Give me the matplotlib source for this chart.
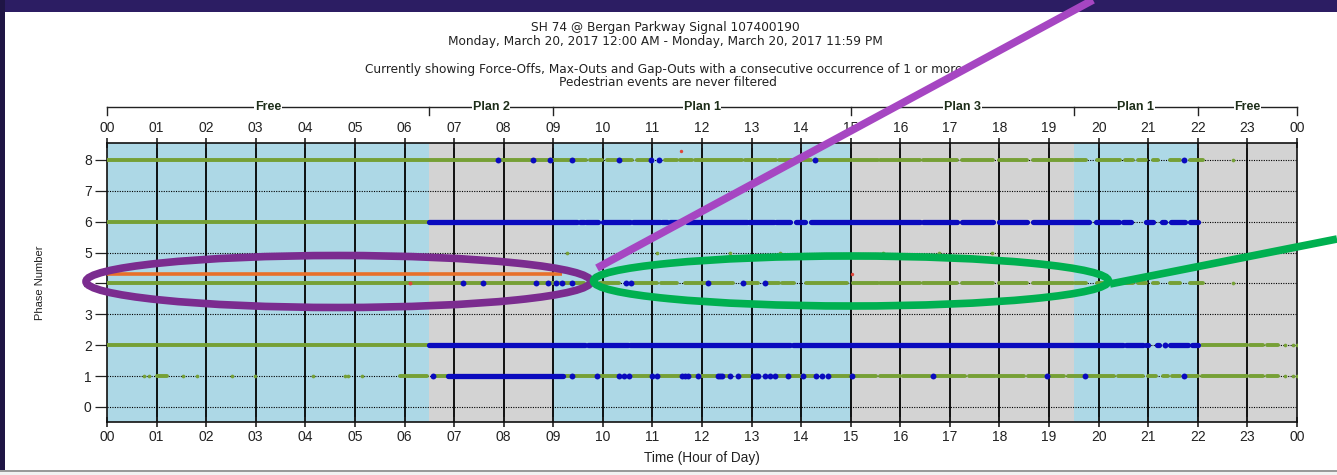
import matplotlib
matplotlib.use("Agg")
import matplotlib.pyplot as plt
from matplotlib.patches import Ellipse, Rectangle
from matplotlib.lines import Line2D
import matplotlib.transforms as mtransforms

plt.rcParams['font.family'] = ['Liberation Sans', 'DejaVu Sans']

# ---------------------------------------------------------------- data
hour_labels = ["00", "01", "02", "03", "04", "05", "06", "07", "08", "09", "10", "11",
               "12", "13", "14", "15", "16", "17", "18", "19", "20", "21", "22", "23", "00"]
phase_ticks = [0, 1, 2, 3, 4, 5, 6, 7, 8]

plan_bounds = [0, 6.5, 9.0, 15.0, 19.5, 22.0, 24.0]
plan_names = ["Free", "Plan 2", "Plan 1", "Plan 3", "Plan 1", "Free"]

title_lines = ["SH 74 @ Bergan Parkway Signal 107400190",
               "Monday, March 20, 2017 12:00 AM - Monday, March 20, 2017 11:59 PM"]
filter_lines = ["Currently showing Force-Offs, Max-Outs and Gap-Outs with a consecutive occurrence of 1 or more.",
                "Pedestrian events are never filtered"]

# Gap-outs: (phase, start hour, end hour) for dense runs
gap_out_runs = [
    (8, 0.0, 9.45), (8, 9.48, 9.66), (8, 9.74, 9.98), (8, 10.08, 10.28), (8, 10.36, 10.58),
    (8, 10.68, 10.95), (8, 11.25, 11.5), (8, 11.55, 11.79), (8, 11.86, 12.8), (8, 12.86, 13.5),
    (8, 13.56, 14.2), (8, 14.3, 15.0), (8, 15.05, 15.55), (8, 15.6, 16.4), (8, 16.46, 17.14),
    (8, 17.24, 17.87), (8, 18.0, 18.55), (8, 18.68, 19.48), (8, 19.52, 19.75), (8, 19.97, 20.43),
    (8, 20.53, 20.69), (8, 20.8, 20.95), (8, 21.1, 21.2), (8, 21.44, 21.64), (8, 21.84, 22.1),
    (6, 0.0, 6.5),
    (4, 0.0, 9.45), (4, 9.45, 9.63), (4, 9.7, 9.85), (4, 9.95, 10.33), (4, 10.63, 11.1),
    (4, 11.17, 11.5), (4, 11.65, 11.98), (4, 12.02, 12.62), (4, 12.85, 13.12), (4, 13.3, 13.56),
    (4, 13.62, 13.85), (4, 14.1, 14.92), (4, 15.05, 15.55), (4, 15.6, 16.4), (4, 16.46, 17.14),
    (4, 17.24, 17.87), (4, 18.0, 18.55), (4, 18.68, 19.48), (4, 19.52, 19.75), (4, 19.97, 20.43),
    (4, 20.53, 20.69), (4, 20.8, 20.95), (4, 21.1, 21.2), (4, 21.44, 21.64), (4, 21.84, 22.1),
    (2, 0.0, 6.5), (2, 22.08, 22.99), (2, 23.05, 23.32), (2, 23.39, 23.62),
    (1, 1.0, 1.2), (1, 5.9, 6.45), (1, 6.6, 6.85), (1, 6.88, 9.2), (1, 9.2, 9.85),
    (1, 9.95, 10.3), (1, 10.6, 10.95), (1, 11.15, 11.55), (1, 11.75, 11.9), (1, 12.0, 12.3),
    (1, 12.45, 12.55), (1, 12.8, 13.0), (1, 13.5, 13.7), (1, 13.8, 14.0), (1, 14.1, 14.28),
    (1, 14.6, 15.0), (1, 15.05, 15.5), (1, 15.6, 16.0), (1, 16.05, 16.6), (1, 16.7, 17.3),
    (1, 17.38, 17.9), (1, 17.95, 18.5), (1, 18.58, 18.9), (1, 19.0, 19.3), (1, 19.38, 19.68),
    (1, 19.78, 20.3), (1, 20.38, 20.9), (1, 21.0, 21.15), (1, 21.3, 21.4), (1, 21.48, 21.65),
    (1, 21.78, 22.0), (1, 22.08, 22.99), (1, 23.05, 23.32), (1, 23.39, 23.62),
]
# Gap-outs: isolated events (phase, hour)
gap_out_times = [
    (8, 22.71), (4, 22.71),
    (5, 9.27), (5, 11.09), (5, 12.57), (5, 13.57), (5, 15.66), (5, 16.77), (5, 17.84),
    (2, 23.76), (2, 23.92), (2, 23.99),
    (1, 0.75), (1, 0.85), (1, 1.53), (1, 1.81), (1, 2.52), (1, 2.98), (1, 4.15),
    (1, 4.8), (1, 4.87), (1, 5.14), (1, 23.76), (1, 23.92), (1, 23.99),
]

# Force-offs: dense runs and isolated events
force_off_runs = [
    (6, 6.5, 9.47), (6, 9.54, 9.62), (6, 9.66, 9.9), (6, 10.0, 10.55), (6, 10.6, 11.15),
    (6, 11.2, 11.3), (6, 11.35, 11.6), (6, 11.7, 12.9), (6, 12.95, 13.45), (6, 13.5, 13.78),
    (6, 13.9, 14.07), (6, 14.2, 16.4), (6, 16.46, 17.14), (6, 17.24, 17.87), (6, 18.0, 18.55),
    (6, 18.68, 19.8), (6, 19.95, 20.4), (6, 20.5, 20.65), (6, 20.95, 21.1), (6, 21.28, 21.33),
    (6, 21.45, 21.75), (6, 21.84, 22.0),
    (2, 6.5, 9.64), (2, 9.7, 10.5), (2, 10.55, 13.78), (2, 13.84, 20.5), (2, 20.55, 20.9),
    (2, 20.95, 21.0), (2, 21.17, 21.22), (2, 21.44, 21.8), (2, 21.88, 22.0),
    (1, 6.88, 9.2),
]
force_off_times = [
    (8, 7.89), (8, 8.60), (8, 8.93), (8, 9.37), (8, 10.33), (8, 10.97), (8, 11.13), (8, 14.28),
    (8, 21.72),
    (4, 7.18), (4, 7.58), (4, 8.65), (4, 8.90), (4, 9.06), (4, 9.18), (4, 9.38), (4, 10.46),
    (4, 10.57), (4, 12.13), (4, 12.83), (4, 13.27),
    (2, 21.34),
    (1, 6.57), (1, 9.37), (1, 9.88), (1, 10.33), (1, 10.43), (1, 10.53), (1, 11.0), (1, 11.1),
    (1, 11.6), (1, 11.66), (1, 11.72), (1, 11.92), (1, 12.32), (1, 12.36), (1, 12.41), (1, 12.57),
    (1, 12.73), (1, 13.03), (1, 13.08), (1, 13.13), (1, 13.27), (1, 13.37), (1, 13.47), (1, 13.74),
    (1, 14.04), (1, 14.3), (1, 14.42), (1, 14.54), (1, 15.02), (1, 16.66), (1, 18.95), (1, 19.73),
    (1, 21.72),
]

# Max-outs
max_out_times = [(4, 6.11)]

# Pedestrian events (drawn just above their phase line)
ped_runs = [(4, 0.0, 9.18)]
ped_times = [(8, 11.58), (4, 15.02)]
ped_offset = 0.3

# ---------------------------------------------------------------- style
W, H = 1337, 475
GREEN = "#76A035"
BLUE = "#0A0ABE"
ORANGE = "#E8702A"
RED = "#E0453A"
LIGHT_BLUE = "#ADD8E6"
LIGHT_GRAY = "#D3D3D3"
TEXT = "#222222"

fig = plt.figure(figsize=(W / 100, H / 100), dpi=100)
fig.patch.set_facecolor("white")

# page frame behind the chart
deco = fig.add_axes([0, 0, 1, 1], zorder=-5)
deco.set_xlim(0, W)
deco.set_ylim(H, 0)
deco.axis("off")
deco.add_patch(Rectangle((0, 0), W, 12, color="#2C1D63", lw=0))
deco.add_patch(Rectangle((0, 0), 5, 470, color="#1F1545", lw=0))
deco.add_patch(Rectangle((0, 470), W, 2, color="#9A9A9A", lw=0))
deco.add_patch(Rectangle((0, 472), W, 3, color="#F2F2F2", lw=0))

ax = fig.add_axes([107 / W, 1 - 422 / H, 1190 / W, 279 / H])
ax.set_xlim(0, 24)
ax.set_ylim(-0.486, 8.55)

# plan shading
for i in range(len(plan_names)):
    ax.axvspan(plan_bounds[i], plan_bounds[i + 1],
               color=LIGHT_BLUE if i % 2 == 0 else LIGHT_GRAY, lw=0, zorder=0)

# grid
ax.vlines(range(1, 24), -0.486, 8.55, colors="black", lw=1.3, zorder=1)
ax.hlines(phase_ticks, 0, 24, colors="black", lw=0.8, linestyles=(0, (1, 1.2)), zorder=1)

# gap-outs
for ph, t0, t1 in gap_out_runs:
    ax.plot([t0, t1], [ph, ph], color=GREEN, lw=2.8, solid_capstyle="round", zorder=3)
ax.scatter([t for _, t in gap_out_times], [p for p, _ in gap_out_times],
           s=7, color=GREEN, lw=0, zorder=3)

# pedestrian events
for ph, t0, t1 in ped_runs:
    ax.plot([t0, t1], [ph + ped_offset] * 2, color=ORANGE, lw=2.6,
            solid_capstyle="butt", zorder=3)
ax.scatter([t for _, t in ped_times], [p + ped_offset for p, _ in ped_times],
           s=6, color=RED, lw=0, zorder=3)

# force-offs
for ph, t0, t1 in force_off_runs:
    ax.plot([t0, t1], [ph, ph], color=BLUE, lw=3.8, solid_capstyle="round", zorder=4)
ax.scatter([t for _, t in force_off_times], [p for p, _ in force_off_times],
           s=18, color=BLUE, lw=0, zorder=4)

# max-outs
ax.scatter([t for _, t in max_out_times], [p for p, _ in max_out_times],
           s=8, color=RED, lw=0, zorder=4)

# axes and ticks
ax.set_xticks(range(25))
ax.set_xticklabels(hour_labels)
ax.set_yticks(phase_ticks)
ax.tick_params(axis="x", direction="inout", length=7, width=1.2, top=True, labeltop=True,
               labelsize=10, pad=2, colors=TEXT)
ax.tick_params(axis="y", direction="out", length=9, width=0.9, labelsize=10, pad=2,
               colors=TEXT)
for sp in ax.spines.values():
    sp.set_color("#111111")
    sp.set_linewidth(1.2)

ax.set_xlabel("Time (Hour of Day)", fontsize=9.8, labelpad=5, color=TEXT)
ax.set_ylabel("Phase Number", fontsize=8, labelpad=28, color=TEXT)

# plan bracket above the top axis
tr = mtransforms.blended_transform_factory(ax.transData, ax.transAxes)
y_line = 1 + (143 - 107) / 279
y_tick = 1 + (143 - 115) / 279
ax.plot([0, 24], [y_line, y_line], color=TEXT, lw=1.0, transform=tr, clip_on=False)
for b in plan_bounds:
    ax.plot([b, b], [y_line, y_tick], color=TEXT, lw=1.0, transform=tr, clip_on=False)
for i, name in enumerate(plan_names):
    mid = (plan_bounds[i] + plan_bounds[i + 1]) / 2
    ax.text(mid, y_line, name, transform=tr, ha="center", va="center", fontsize=9,
            fontweight="bold", color="#1E2E1A",
            bbox=dict(facecolor="white", edgecolor="none", pad=0.5))

# titles
title_font = dict(ha="center", va="center", fontsize=8.7, color=TEXT, family="DejaVu Sans")
fig.text(665 / W, 1 - 28 / H, title_lines[0], **title_font)
fig.text(665 / W, 1 - 41 / H, title_lines[1], **title_font)
fig.text(666 / W, 1 - 70 / H, filter_lines[0], **title_font)
fig.text(668 / W, 1 - 82 / H, filter_lines[1], **title_font)

# call-outs drawn over the chart
over = fig.add_axes([0, 0, 1, 1], zorder=10)
over.set_xlim(0, W)
over.set_ylim(H, 0)
over.axis("off")
over.patch.set_alpha(0)
over.add_patch(Ellipse((338.5, 281.5), 505, 52, fill=False, edgecolor="#7B2C8F", lw=5.5))
over.add_patch(Ellipse((851, 281), 515, 50, fill=False, edgecolor="#00B050", lw=5.5))
over.add_line(Line2D([597, 1093], [268, 0], color="#A646C2", lw=5.5, solid_capstyle="butt"))
over.add_line(Line2D([1110, 1337], [284, 239], color="#00B050", lw=5.5, solid_capstyle="butt"))

fig.savefig("out.png", dpi=100)
